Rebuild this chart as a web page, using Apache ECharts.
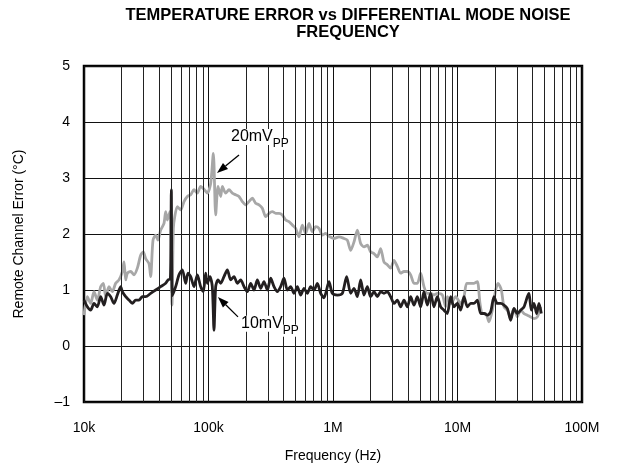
<!DOCTYPE html>
<html><head><meta charset="utf-8">
<script src="https://cdn.jsdelivr.net/npm/echarts@6/dist/echarts.min.js"></script>
<style>html,body{margin:0;padding:0;background:#fff}#c{width:626px;height:475px}</style>
</head><body><div id="c"></div>
<script>
const titleText = 'TEMPERATURE ERROR vs DIFFERENTIAL MODE NOISE\nFREQUENCY';
const xName = 'Frequency (Hz)';
const yName = 'Remote Channel Error (\u00B0C)';
const xTickLabels = {4:'10k',5:'100k',6:'1M',7:'10M',8:'100M'};
const yMin = -1, yMax = 5, yStep = 1;
const xMin = 1e4, xMax = 1e8;

// 20mVpp (gray)
const freq20 = [10000,10637,11312,12033,12797,13614,14302,14928,15877,16888,17963,19103,20321,20963,21618,22294,23709,25209,26818,28524,29964,31281,33274,34317,35830,37640,39300,41290,43910,45290,46700,49070,49700,50900,52200,53480,56200,59770,63570,67610,71920,76450,81360,86490,92000,97880,104100,109400,114200,119200,125300,129200,137400,146100,155400,165300,175800,187000,198900,211500,225000,239300,254500,270600,287900,306200,325600,346400,368400,391800,416700,443200,471400,501400,533300,567100,603200,641600,682300,725700,771900,820800,873000,928600,1018600,1117300,1225300,1303200,1386700,1474900,1568400,1668200,1774200,1886900,2006900,2134500,2270100,2414500,2568000,2731200,2904900,3089600,3286000,3494900,3717100,3953400,4204800,4472100,4756400,5058800,5380400,5722500,6086300,6473200,6884700,7551600,8031800,8283000,8811000,9667000,10600000,11280000,11850000,12760000,13570000,14430000,15160000,15830000,16840000,17910000,19050000,20260000,21150000,22490000,23630000,25140000,26730000,28430000,30240000,32160000,34210000,36380000,38700000,41160000,43780000,46560000];
const err20 = [0.55,0.88,0.76,0.97,0.82,1.06,1.12,0.88,1.06,0.97,1.12,1.18,1.33,1.50,1.18,1.30,1.33,1.27,1.39,1.62,1.68,1.56,1.47,1.24,1.89,1.98,1.89,2.07,2.19,2.40,2.25,2.40,2.30,0.73,2.10,2.30,2.49,2.43,2.58,2.67,2.70,2.79,2.73,2.85,2.80,2.73,2.90,3.44,2.34,2.85,2.67,2.85,2.73,2.79,2.73,2.70,2.67,2.58,2.52,2.58,2.64,2.55,2.52,2.46,2.31,2.37,2.40,2.37,2.37,2.34,2.25,2.22,2.16,2.10,1.95,2.16,2.01,2.19,2.04,2.13,2.10,1.98,2.01,1.96,1.92,1.95,1.92,1.89,1.71,1.86,2.07,1.83,1.77,1.80,1.68,1.65,1.59,1.74,1.50,1.45,1.39,1.53,1.42,1.30,1.33,1.33,1.27,1.12,1.12,1.30,1.06,0.94,0.94,0.91,0.94,0.91,0.70,0.88,0.76,0.88,0.76,0.88,1.12,1.12,1.12,1.15,0.76,0.58,0.58,0.43,0.64,1.00,1.12,1.00,0.70,0.64,0.52,0.67,0.52,0.64,0.58,0.55,0.52,0.49,0.52,0.70];

// 10mVpp (black)
const freq10 = [10000,10637,11312,12033,12797,13614,14478,15396,16377,17418,18522,19703,20321,21618,22989,24451,26002,27658,29411,31281,34317,37640,41290,45290,47280,49400,50290,51300,54480,57960,61640,65560,68450,71920,76450,81360,86490,90900,94880,97880,102800,107300,110700,114200,119200,125300,133200,141700,150700,160300,170400,181300,192900,205100,218200,232000,246800,262500,279100,296900,315800,335800,357200,379900,404100,429800,457100,486200,517100,550000,584900,622100,661700,703700,748400,796100,846500,928600,987700,1083400,1188500,1287400,1386700,1474900,1568400,1668200,1774200,1886900,2006900,2134500,2270100,2414500,2568000,2731200,2904900,3089600,3286000,3494900,3717100,3953400,4204800,4472100,4756400,5058800,5380400,5722500,6086300,6473200,6884700,7322400,7788000,8283000,8811000,9374000,9970000,10600000,11280000,12000000,12760000,13570000,14430000,15350000,16330000,17370000,18470000,19650000,20890000,22220000,23630000,25140000,26730000,28430000,30240000,32160000,34210000,36380000,37520000,39180000,41160000,43240000,45140000,47140000];
const err10 = [0.82,0.70,0.64,0.76,0.70,0.88,0.73,0.94,0.88,0.76,0.91,1.06,0.97,0.88,0.82,0.76,0.82,0.82,0.88,0.88,0.94,1.00,1.06,1.12,1.18,1.20,2.79,0.90,1.06,1.27,1.36,1.12,1.30,1.24,1.06,1.27,1.06,0.97,1.30,1.12,1.24,1.06,0.28,1.06,1.18,1.12,1.24,1.36,1.18,1.24,1.12,1.18,1.06,0.97,1.12,1.00,1.18,1.03,1.15,1.00,1.21,1.06,0.97,1.06,1.21,1.00,1.06,0.94,1.06,0.91,1.03,0.94,1.06,1.00,1.12,0.94,0.86,1.15,0.94,0.91,0.94,1.24,0.94,1.03,0.88,1.18,0.91,1.06,0.88,0.97,0.88,0.97,0.94,0.97,0.88,0.76,0.82,0.70,0.82,0.70,0.88,0.73,0.88,0.70,0.97,0.73,0.94,0.70,0.88,0.70,0.64,0.58,0.88,0.70,0.76,0.64,0.88,0.70,0.76,0.76,0.82,0.58,0.58,0.55,0.61,0.88,0.76,0.76,0.73,0.67,0.46,0.67,0.58,0.64,0.70,0.88,0.94,0.64,0.76,0.58,0.76,0.58];

// vertical grid lines between decades (2..9 x each decade)
const gridFreqs = [2e4,3e4,4e4,5e4,6e4,7e4,8e4,9e4,2e5,3e5,4e5,5e5,6e5,7e5,8e5,9e5,2e6,3e6,4e6,5e6,6e6,7e6,8e6,9e6,2e7,3e7,4e7,5e7,6e7,7e7,8e7,9e7];

// annotations: arrow from -> to, text anchor (left, baseline) in data coords
const annotations = [
  {main:'20mV', sub:'PP', from:[175800,3.41], to:[117000,3.09], text:[148800,3.59]},
  {main:'10mV', sub:'PP', from:[172600,0.52], to:[119000,0.875], text:[179000,0.255]}
];

const FONT = '"Liberation Sans", Arial, Helvetica, sans-serif';
const chart = echarts.init(document.getElementById('c'), null, {renderer:'canvas'});

const toPairs = (xs, ys) => xs.map((x, i) => [x, ys[i]]);

chart.setOption({
  animation: false,
  backgroundColor: '#fff',
  title: {
    text: titleText, left: 343, top: 2, textAlign: 'center',
    textStyle: {fontFamily: FONT, fontWeight: 'bold', fontSize: 16.5, color: '#000', lineHeight: 17}
  },
  grid: {left: 84, right: 44, top: 66, bottom: 73, show: true, borderColor: '#000', borderWidth: 2.5, backgroundColor: 'transparent'},
  xAxis: {
    type: 'log', logBase: 10, min: xMin, max: xMax,
    name: xName, nameLocation: 'middle', nameGap: 47,
    nameTextStyle: {fontFamily: FONT, fontSize: 14, color: '#000'},
    axisLine: {show: false}, axisTick: {show: false},
    axisLabel: {fontFamily: FONT, fontSize: 14, color: '#000', margin: 19,
      formatter: v => xTickLabels[Math.round(Math.log10(v))] || ''},
    splitLine: {show: true, lineStyle: {color: '#111', width: 1}}
  },
  yAxis: {
    type: 'value', min: yMin, max: yMax, interval: yStep,
    name: yName, nameLocation: 'middle', nameGap: 58,
    nameTextStyle: {fontFamily: FONT, fontSize: 14, color: '#000'},
    axisLine: {show: false}, axisTick: {show: false},
    axisLabel: {fontFamily: FONT, fontSize: 14, color: '#000', margin: 14,
      formatter: v => v < 0 ? '\u2013' + Math.abs(v) : String(v)},
    splitLine: {show: true, lineStyle: {color: '#111', width: 1}}
  },
  series: [
    {
      type: 'line', data: [], z: 1, silent: true,
      markLine: {
        silent: true, symbol: ['none', 'none'], animation: false,
        label: {show: false},
        lineStyle: {color: '#222', width: 1, type: 'solid'},
        emphasis: {disabled: true},
        data: gridFreqs.map(f => ({xAxis: f}))
      }
    },
    {
      name: '20mVpp', type: 'line', data: toPairs(freq20, err20), z: 3,
      showSymbol: false, smooth: 0.25, silent: true,
      lineStyle: {color: '#a7a7a7', width: 2.8}
    },
    {
      name: '10mVpp', type: 'line', data: toPairs(freq10, err10), z: 4,
      showSymbol: false, smooth: 0.25, silent: true,
      lineStyle: {color: '#231f20', width: 2.8}
    }
  ]
});

// annotation text labels with subscript, and arrows
const ctx = document.createElement('canvas').getContext('2d');
const mainSize = 16, subSize = 12;
const graphics = [];
annotations.forEach(a => {
  const p = chart.convertToPixel({gridIndex: 0}, a.text);
  ctx.font = mainSize + 'px ' + FONT;
  const w = ctx.measureText(a.main).width;
  graphics.push({type: 'text', x: p[0], y: p[1], z: 10,
    style: {text: a.main, fontFamily: FONT, fontSize: mainSize, fill: '#000', textAlign: 'left', textVerticalAlign: 'bottom', backgroundColor: '#fff', padding: [0, 0, 0, 1]}});
  graphics.push({type: 'text', x: p[0] + w + 1, y: p[1] + 5, z: 10,
    style: {text: a.sub, fontFamily: FONT, fontSize: subSize, fill: '#000', textAlign: 'left', textVerticalAlign: 'bottom', backgroundColor: '#fff', padding: [0, 1, 0, 0]}});
  const s = chart.convertToPixel({gridIndex: 0}, a.from);
  const t = chart.convertToPixel({gridIndex: 0}, a.to);
  const dx = t[0] - s[0], dy = t[1] - s[1];
  const len = Math.hypot(dx, dy), ux = dx / len, uy = dy / len;
  const hl = 11, hw = 4;
  const bx = t[0] - ux * hl, by = t[1] - uy * hl;
  graphics.push({type: 'line', z: 11, shape: {x1: s[0], y1: s[1], x2: bx, y2: by},
    style: {stroke: '#000', lineWidth: 1.3}});
  graphics.push({type: 'polygon', z: 11, shape: {points: [[t[0], t[1]], [bx - uy * hw, by + ux * hw], [bx + uy * hw, by - ux * hw]]},
    style: {fill: '#000'}});
});
chart.setOption({graphic: graphics});
</script>
</body></html>
